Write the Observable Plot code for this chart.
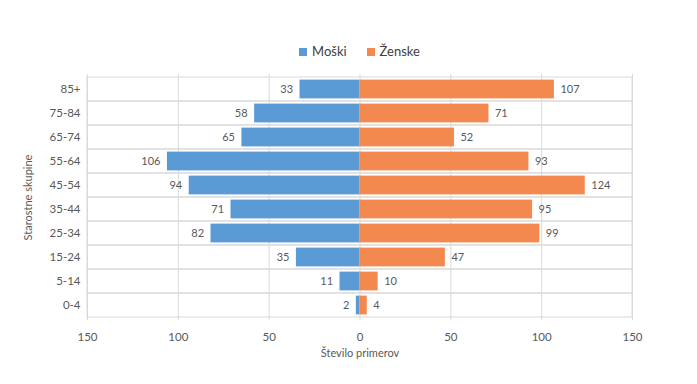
<!DOCTYPE html>
<html><head><meta charset="utf-8">
<script src="https://cdn.jsdelivr.net/npm/d3@7"></script>
<script src="https://cdn.jsdelivr.net/npm/@observablehq/plot@0.6"></script>
<style>
body{margin:0;background:#fff;font-family:Lato,"Open Sans",sans-serif;}
#wrap{position:relative;width:697px;height:384px;}
#legend{position:absolute;top:43px;left:0;width:697px;display:flex;justify-content:center;gap:20px;font-size:13px;color:#404040;padding-left:22px;box-sizing:border-box;}
#legend span.sw{display:inline-block;width:8px;height:8px;margin-right:5px;vertical-align:0px;}
</style></head><body>
<div id="wrap"><div id="legend"></div><div id="chart"></div></div>
<script>
const groups = ["0-4","5-14","15-24","25-34","35-44","45-54","55-64","65-74","75-84","85+"];
const male = [2,11,35,82,71,94,106,65,58,33];
const female = [4,10,47,99,95,124,93,52,71,107];
const seriesNames = ["Moški","Ženske"];
const colors = ["#5B9BD5","#F4894F"];
const xTicks = [-150,-100,-50,0,50,100,150];

const rows = [];
groups.forEach((g,i)=>{
  rows.push({group:g, sex:seriesNames[0], value:-male[i], label:male[i]});
  rows.push({group:g, sex:seriesNames[1], value:female[i], label:female[i]});
});
const mRows = rows.filter(d=>d.sex===seriesNames[0]);
const fRows = rows.filter(d=>d.sex===seriesNames[1]);

const leg = document.getElementById("legend");
seriesNames.forEach((n,i)=>{
  const s=document.createElement("div");
  s.innerHTML=`<span class="sw" style="background:${colors[i]}"></span>${n}`;
  leg.appendChild(s);
});

const chart = Plot.plot({
  width:697, height:384,
  marginTop:74, marginBottom:64, marginLeft:87, marginRight:65,
  style:{fontFamily:"Lato, 'Open Sans', sans-serif", fontSize:"11px", color:"#595959", background:"transparent"},
  x:{domain:[-150,150], ticks:xTicks, tickFormat:d=>Math.abs(d), label:"Število primerov", labelArrow:"none", labelAnchor:"center", labelOffset:36, tickSize:0, tickPadding:12},
  y:{domain:groups.slice().reverse(), padding:0, label:"Starostne skupine", labelArrow:"none", labelAnchor:"center", labelOffset:63, tickSize:0, tickPadding:7},
  color:{domain:seriesNames, range:colors},
  marks:[
    Plot.ruleX(xTicks,{stroke:"#d9d9d9"}),
    Plot.barX(groups,{x1:-150,x2:150,y:d=>d,fill:"none",stroke:"#d9d9d9",inset:0}),
    Plot.barX(rows,{x:"value",y:"group",fill:"sex",insetTop:2.6,insetBottom:2.6}),
    Plot.text(mRows,{x:"value",y:"group",text:"label",textAnchor:"end",dx:-7,fill:"#595959",fontSize:11}),
    Plot.text(fRows,{x:"value",y:"group",text:"label",textAnchor:"start",dx:6,fill:"#595959",fontSize:11})
  ]
});
chart.querySelectorAll('[aria-label="y-axis tick label"] text, [aria-label="x-axis tick label"] text').forEach(t=>t.setAttribute("font-size","11.5"));
chart.querySelectorAll('[aria-label$="axis label"] text').forEach(t=>{t.textContent=t.textContent.replace(/\s*[→↑←↓]\s*/g,"");});
document.getElementById("chart").appendChild(chart);
</script>
</body></html>
